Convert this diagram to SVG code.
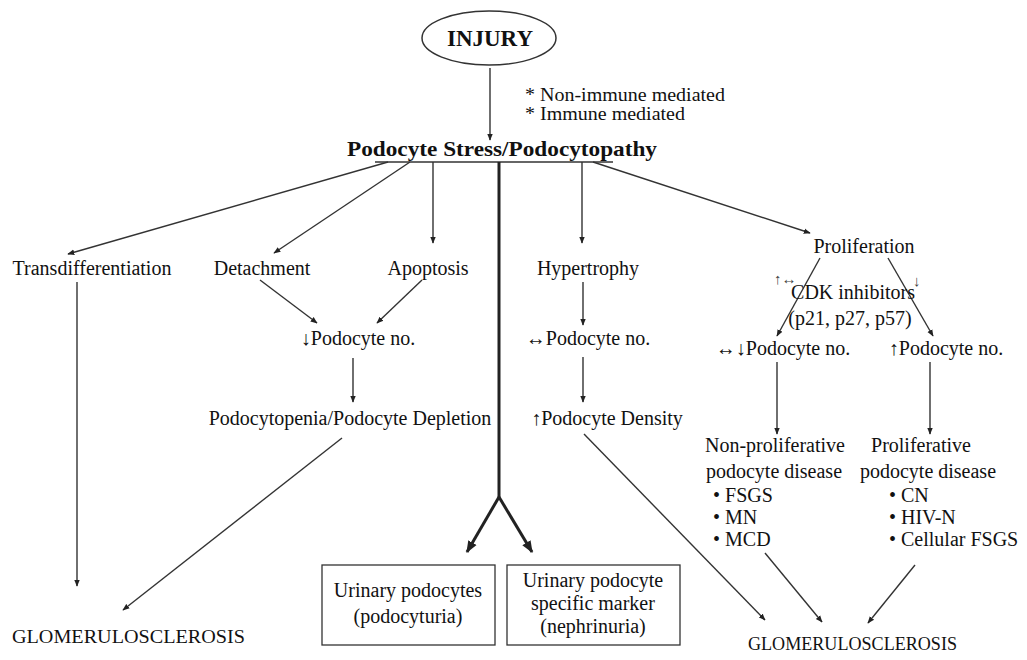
<svg xmlns="http://www.w3.org/2000/svg" width="1027" height="660" viewBox="0 0 1027 660">
<defs>
<style>
text{font-family:"Liberation Serif","Times New Roman",serif;fill:#111;font-size:20px}
.b{font-weight:bold}
.m{text-anchor:middle}
.sm{font-size:15px;fill:#444}
.nt{font-size:18px}
.ln{stroke:#333;stroke-width:1.4;fill:none}
.th{stroke:#222;stroke-width:3;fill:none}
.box{fill:#fff;stroke:#333;stroke-width:1.3}
</style>
<marker id="ah" viewBox="0 0 10 10" refX="9" refY="5" markerWidth="7" markerHeight="7" markerUnits="userSpaceOnUse" orient="auto"><path d="M0,1 L10,5 L0,9 z" fill="#222"/></marker>
<marker id="ahb" viewBox="0 0 10 10" refX="9" refY="5" markerWidth="12" markerHeight="12" markerUnits="userSpaceOnUse" orient="auto"><path d="M0,1 L10,5 L0,9 z" fill="#222"/></marker>
</defs>
<rect width="1027" height="660" fill="#fff"/>

<g id="connectors">
<line class="ln" x1="490" y1="68" x2="490" y2="140" marker-end="url(#ah)"/>
<line class="ln" x1="375" y1="162" x2="613" y2="162"/>
<line class="ln" x1="388" y1="162" x2="68" y2="254" marker-end="url(#ah)"/>
<line class="ln" x1="410" y1="162" x2="274" y2="253" marker-end="url(#ah)"/>
<line class="ln" x1="433" y1="162" x2="433" y2="243" marker-end="url(#ah)"/>
<line class="ln" x1="582" y1="162" x2="582" y2="243" marker-end="url(#ah)"/>
<line class="ln" x1="593" y1="162" x2="810" y2="233" marker-end="url(#ah)"/>
<line class="th" x1="499" y1="162" x2="499" y2="497"/>
<line class="th" x1="499" y1="497" x2="467" y2="552" marker-end="url(#ahb)"/>
<line class="th" x1="499" y1="497" x2="532" y2="552" marker-end="url(#ahb)"/>
<line class="ln" x1="77" y1="282" x2="77" y2="586" marker-end="url(#ah)"/>
<line class="ln" x1="260" y1="280" x2="317" y2="323" marker-end="url(#ah)"/>
<line class="ln" x1="422" y1="280" x2="377" y2="323" marker-end="url(#ah)"/>
<line class="ln" x1="353" y1="358" x2="353" y2="402" marker-end="url(#ah)"/>
<line class="ln" x1="342" y1="438" x2="123" y2="610" marker-end="url(#ah)"/>
<line class="ln" x1="583" y1="282" x2="583" y2="325" marker-end="url(#ah)"/>
<line class="ln" x1="583" y1="357" x2="583" y2="402" marker-end="url(#ah)"/>
<line class="ln" x1="584" y1="434" x2="765" y2="620" marker-end="url(#ah)"/>
<line class="ln" x1="820" y1="258" x2="777" y2="336" marker-end="url(#ah)"/>
<line class="ln" x1="888" y1="258" x2="933" y2="336" marker-end="url(#ah)"/>
<line class="ln" x1="777" y1="362" x2="777" y2="434" marker-end="url(#ah)"/>
<line class="ln" x1="930" y1="362" x2="930" y2="434" marker-end="url(#ah)"/>
<line class="ln" x1="765" y1="553" x2="822" y2="622" marker-end="url(#ah)"/>
<line class="ln" x1="915" y1="565" x2="868" y2="623" marker-end="url(#ah)"/>
</g>

<g id="injury">
<ellipse cx="489" cy="38" rx="67" ry="27" fill="#fff" stroke="#333" stroke-width="1.5"/>
<text class="b m" x="490" y="46" style="font-size:23px">INJURY</text>
</g>
<g id="injury-notes">
<text class="nt" x="525" y="101" textLength="200" lengthAdjust="spacingAndGlyphs">* Non-immune mediated</text>
<text class="nt" x="525" y="120" textLength="160" lengthAdjust="spacingAndGlyphs">* Immune mediated</text>
</g>
<g id="stress"><text class="b" x="347" y="156" textLength="310" lengthAdjust="spacingAndGlyphs" style="font-size:21.5px">Podocyte Stress/Podocytopathy</text></g>

<g id="transdiff"><text class="m" x="92" y="275">Transdifferentiation</text></g>
<g id="detachment"><text class="m" x="262" y="275">Detachment</text></g>
<g id="apoptosis"><text class="m" x="428" y="275">Apoptosis</text></g>
<g id="hypertrophy"><text class="m" x="588" y="275">Hypertrophy</text></g>
<g id="proliferation"><text class="m" x="864" y="253">Proliferation</text></g>

<g id="dec-podo"><text class="m" x="358" y="345">↓Podocyte no.</text></g>
<g id="depletion"><text class="m" x="350" y="425">Podocytopenia/Podocyte Depletion</text></g>
<g id="eq-podo"><text class="m" x="588" y="345">↔Podocyte no.</text></g>
<g id="density"><text class="m" x="607" y="425">↑Podocyte Density</text></g>

<g id="cdk">
<text class="sm" x="774" y="284">↑↔</text>
<text class="sm" x="913" y="286">↓</text>
<text class="m" x="853" y="299">CDK inhibitors</text>
<text class="m" x="850" y="325">(p21, p27, p57)</text>
</g>
<g id="eqdec-podo"><text class="m" x="783" y="355">↔↓Podocyte no.</text></g>
<g id="inc-podo"><text class="m" x="946" y="355">↑Podocyte no.</text></g>

<g id="nonprolif">
<text class="m" x="775" y="452">Non-proliferative</text>
<text class="m" x="774" y="478">podocyte disease</text>
<text x="713" y="502">• FSGS</text>
<text x="713" y="524">• MN</text>
<text x="713" y="546">• MCD</text>
</g>
<g id="prolif-disease">
<text class="m" x="921" y="452">Proliferative</text>
<text class="m" x="928" y="478">podocyte disease</text>
<text x="889" y="502">• CN</text>
<text x="889" y="524">• HIV-N</text>
<text x="889" y="546">• Cellular FSGS</text>
</g>

<g id="urinary-podocytes">
<rect class="box" x="322" y="565" width="173" height="80"/>
<text class="m" x="408" y="597">Urinary podocytes</text>
<text class="m" x="408" y="623">(podocyturia)</text>
</g>
<g id="urinary-marker">
<rect class="box" x="507" y="565" width="173" height="80"/>
<text class="m" x="593" y="587">Urinary podocyte</text>
<text class="m" x="593" y="610">specific marker</text>
<text class="m" x="593" y="633">(nephrinuria)</text>
</g>

<g id="gs-left"><text x="12" y="643" textLength="233" lengthAdjust="spacingAndGlyphs" style="font-size:18.5px">GLOMERULOSCLEROSIS</text></g>
<g id="gs-right"><text x="748" y="650" textLength="209" lengthAdjust="spacingAndGlyphs" style="font-size:18.5px">GLOMERULOSCLEROSIS</text></g>
</svg>
